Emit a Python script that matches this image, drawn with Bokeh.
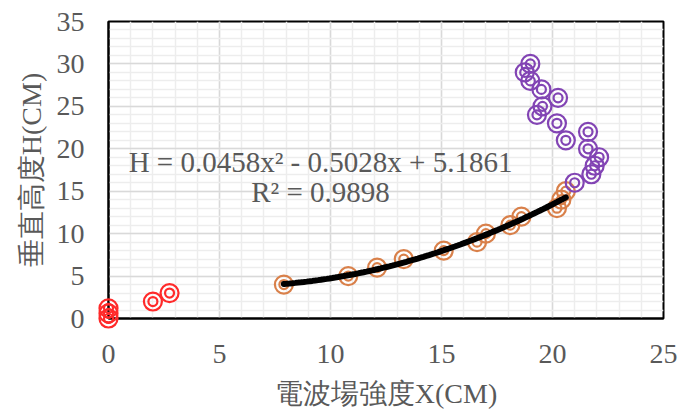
import numpy as np
from bokeh.plotting import figure
from bokeh.models import Range1d, SingleIntervalTicker, Label
from bokeh.embed import file_html
from bokeh.resources import INLINE

# ---- data ----
red_x = [0, 0, 0, 2.0, 2.75]
red_y = [0, 0.6, 1.2, 2, 3]

orange_x = [7.9, 10.8, 12.1, 13.3, 15.1, 16.6, 17.0, 18.1, 18.6, 20.2, 20.4, 20.6]
orange_y = [4, 5, 6, 7, 8, 9, 10, 11, 12, 13, 14, 15]

purple_x = [21.0, 21.75, 21.9, 22.1, 21.6, 20.6, 21.6, 20.2, 19.3, 19.55, 20.25, 19.5, 19.0, 18.75, 19.0]
purple_y = [16, 17, 18, 19, 20, 21, 22, 23, 24, 25, 26, 27, 28, 29, 30]

trend_coef = [0.0458, -0.5028, 5.1861]  # H = a x^2 + b x + c (orange series trendline)
trend_range = [7.9, 20.6]

eq_text = "H = 0.0458x² - 0.5028x + 5.1861"
r2_text = "R² = 0.9898"

x_title = "電波場強度X(CM)"
y_title = "垂直高度H(CM)"

RED = "#FF2A2A"
ORANGE = "#D9804A"
PURPLE = "#8244B4"
TXT = "#595959"
FONT = "Liberation Serif"

p = figure(width=690, height=412, output_backend="svg", toolbar_location=None,
           x_range=Range1d(0, 25), y_range=Range1d(0, 35),
           min_border_left=108, min_border_right=27, min_border_top=21, min_border_bottom=94)

p.background_fill_color = "white"
p.border_fill_color = "white"
p.outline_line_color = "black"
p.outline_line_width = 2

p.xaxis.ticker = SingleIntervalTicker(interval=5, num_minor_ticks=5)
p.yaxis.ticker = SingleIntervalTicker(interval=5, num_minor_ticks=5)

for g in (p.xgrid, p.ygrid):
    g.grid_line_color = "#D9D9D9"
    g.grid_line_width = 1.5
    g.minor_grid_line_color = "#EDEDED"
    g.minor_grid_line_width = 1.5

for ax in (p.xaxis, p.yaxis):
    ax.axis_line_color = "black"
    ax.axis_line_width = 2
    ax.major_tick_line_color = None
    ax.minor_tick_line_color = None
    ax.major_tick_out = 0
    ax.minor_tick_out = 0
    ax.major_label_text_font = FONT
    ax.major_label_text_font_size = "28px"
    ax.major_label_text_color = TXT
    ax.axis_label_text_font = FONT
    ax.axis_label_text_font_size = "28px"
    ax.axis_label_text_color = TXT
    ax.axis_label_text_font_style = "normal"

p.xaxis.axis_label = x_title
p.yaxis.axis_label = y_title
p.xaxis.major_label_standoff = 26
p.xaxis.axis_label_standoff = 12
p.yaxis.major_label_standoff = 24
p.yaxis.axis_label_standoff = 7

def rings(xs, ys, color):
    p.scatter(xs, ys, marker="circle", size=18, fill_color=None, line_color=color,
              line_width=2.2, level="overlay")
    p.scatter(xs, ys, marker="circle", size=9, fill_color=None, line_color=color,
              line_width=2.2, level="overlay")

rings(red_x, red_y, RED)
rings(orange_x, orange_y, ORANGE)
rings(purple_x, purple_y, PURPLE)

tx = np.linspace(trend_range[0], trend_range[1], 100)
ty = np.polyval(trend_coef, tx)
p.line(tx, ty, line_color="black", line_width=6, line_cap="round", level="overlay")

p.add_layout(Label(x=9.55, y=18.5, text=eq_text, text_align="center", text_baseline="middle",
                   text_font=FONT, text_font_size="29px", text_color=TXT))
p.add_layout(Label(x=9.55, y=14.85, text=r2_text, text_align="center", text_baseline="middle",
                   text_font=FONT, text_font_size="29px", text_color=TXT))

open("out.html", "w").write(file_html(p, INLINE))
